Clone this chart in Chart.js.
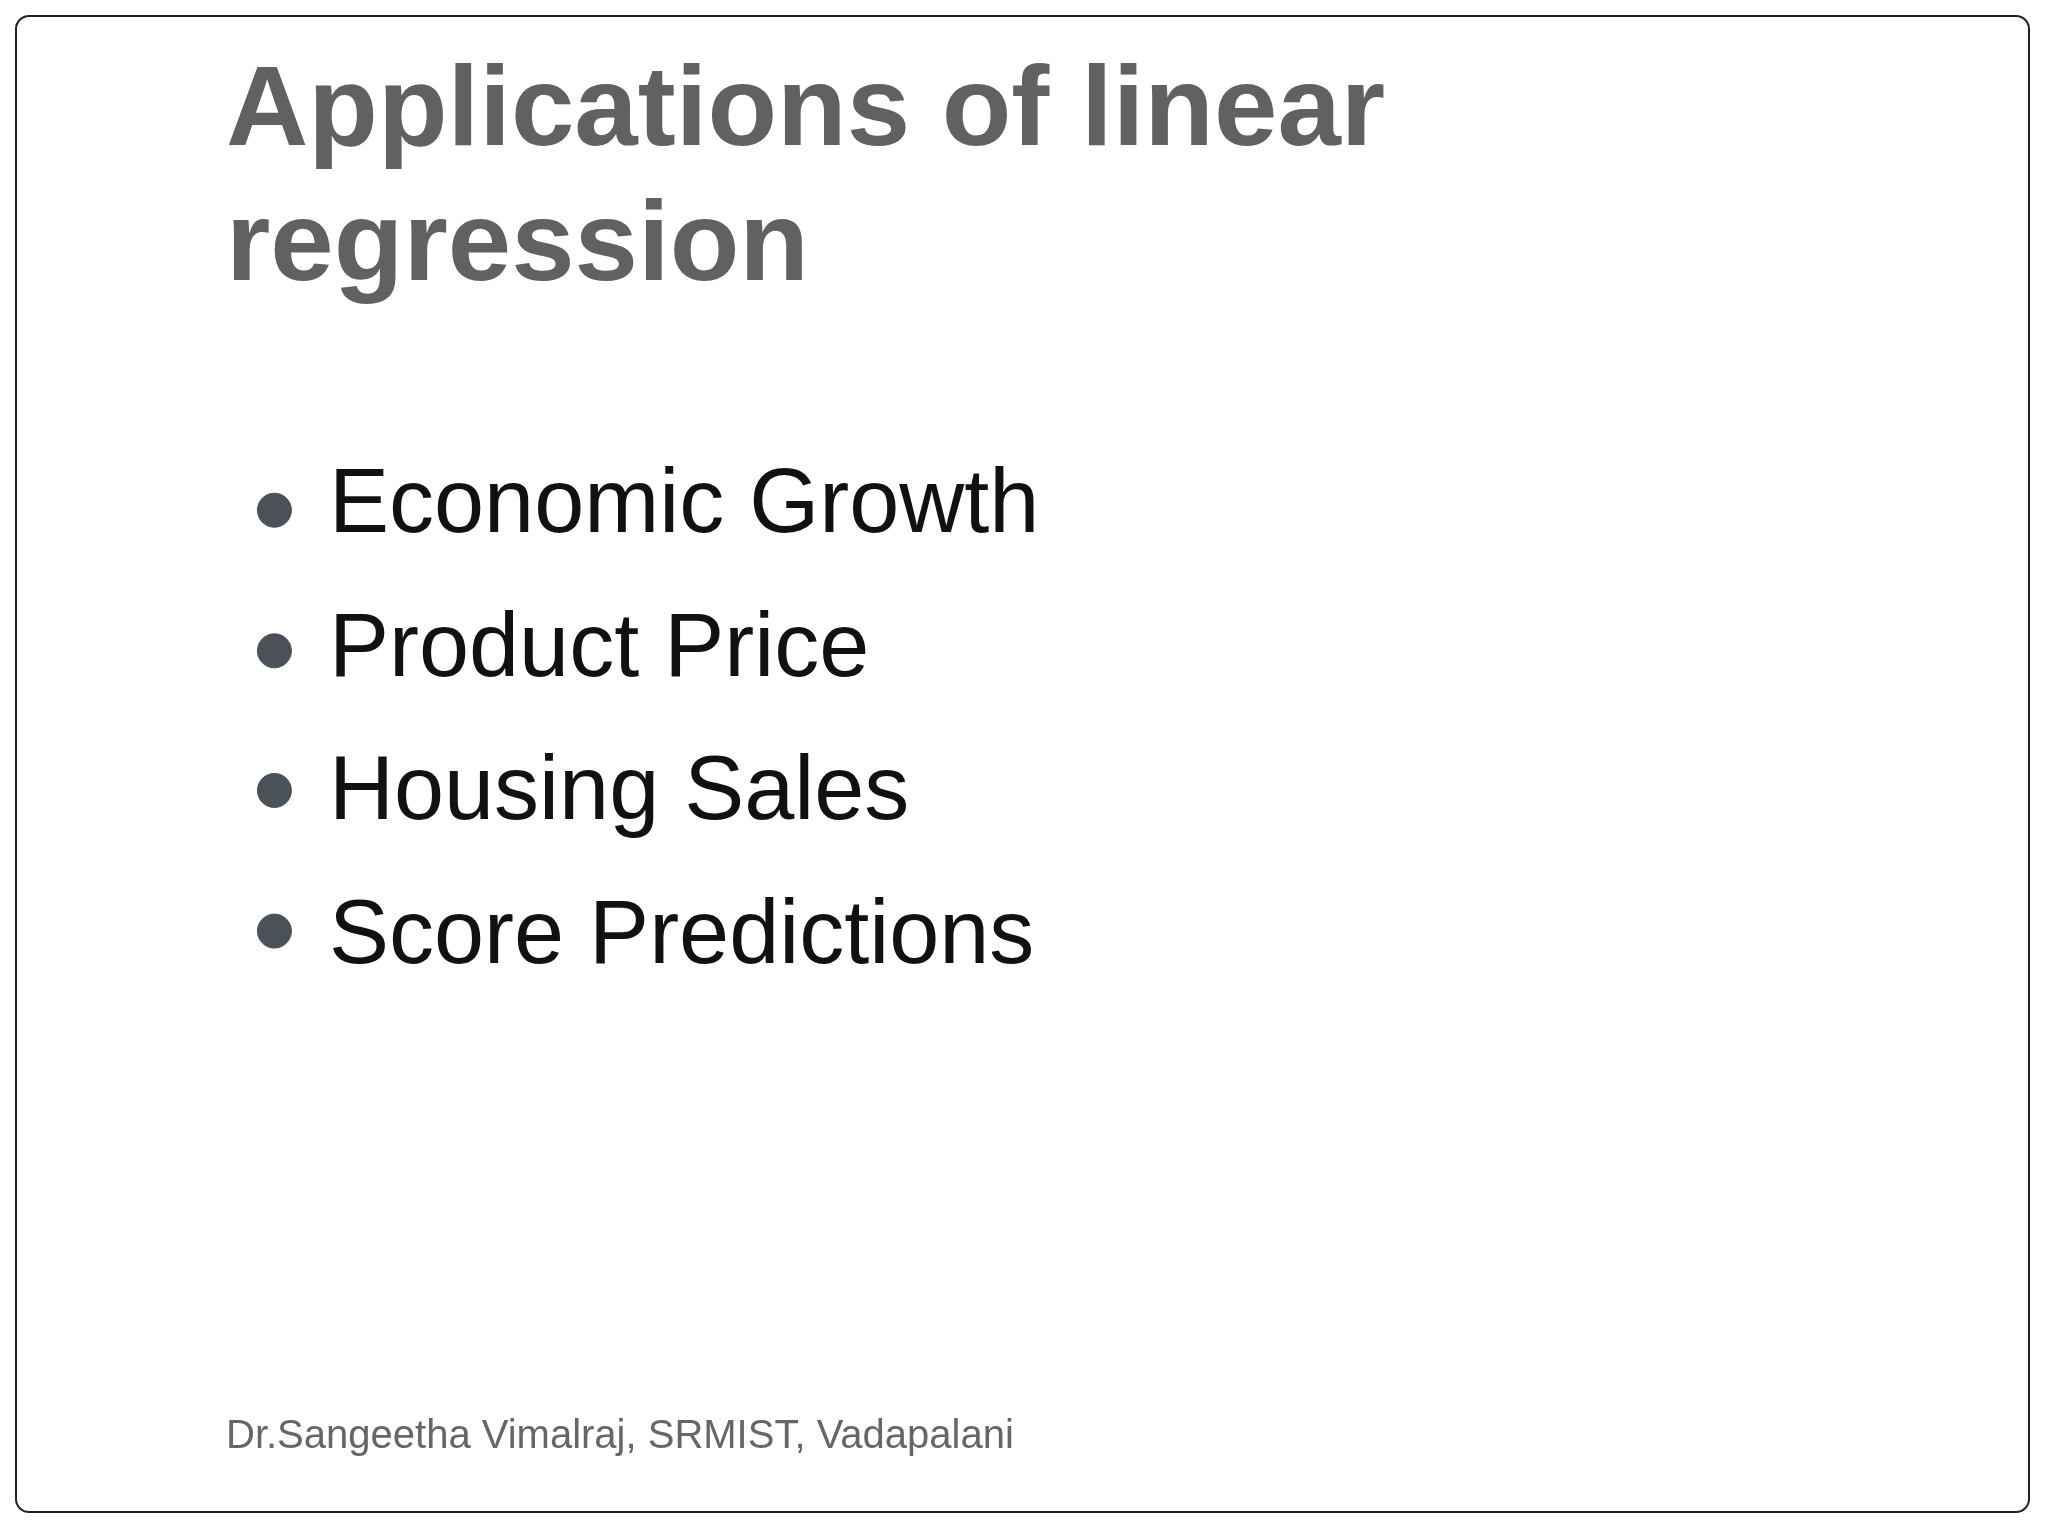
<!DOCTYPE html>
<html><head><meta charset="utf-8">
<script src="https://cdn.jsdelivr.net/npm/chart.js@4/dist/chart.umd.min.js"></script>
<style>
html,body{margin:0;padding:0;background:#fff;width:2048px;height:1536px;overflow:hidden;font-family:"Liberation Sans",Arial,sans-serif}
#frame{position:absolute;left:15px;top:15px;width:2015px;height:1498px;border:2px solid #222;border-radius:14px;box-sizing:border-box}
#cv{position:absolute;left:0;top:0}
.t{position:absolute;white-space:nowrap}
#title{left:226px;top:38px;font-weight:bold;font-size:114px;line-height:135px;color:#616161}
.item{left:329px;font-size:90px;color:#111;line-height:1}
#foot{left:226px;top:1412px;font-size:40px;color:#666}
</style></head><body>
<div id="frame"></div>
<canvas id="cv" width="2048" height="1536"></canvas>
<div id="title" class="t">Applications of linear<br>regression</div>
<div id="items"></div>
<div id="foot" class="t">Dr.Sangeetha Vimalraj, SRMIST, Vadapalani</div>
<script>
const categories = ["Economic Growth","Product Price","Housing Sales","Score Predictions"];
const bulletY = [504, 648, 791, 935];
const bulletX = [261, 261, 261, 261];

const box = document.getElementById('items');
categories.forEach((c,i)=>{
  const d=document.createElement('div');d.className='t item';d.textContent=c;
  d.style.top=(bulletY[i]-48)+'px';box.appendChild(d);
});

new Chart(document.getElementById('cv'),{
  type:'scatter',
  data:{datasets:[{data:bulletX.map((x,i)=>({x:x,y:bulletY[i]})),
    backgroundColor:'#4b5159',borderColor:'#4b5159',pointRadius:17,pointHoverRadius:17}]},
  options:{responsive:false,animation:false,
    layout:{padding:0},
    plugins:{legend:{display:false},tooltip:{enabled:false}},
    scales:{x:{type:'linear',min:0,max:2048,display:false},
            y:{type:'linear',min:0,max:1536,reverse:true,display:false}}}
});
</script>
</body></html>
